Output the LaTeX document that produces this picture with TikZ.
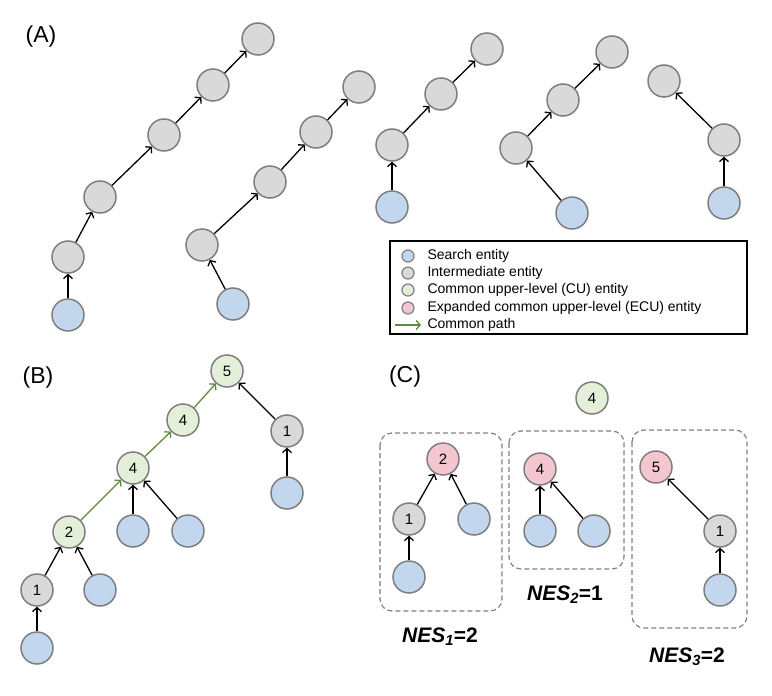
\documentclass[tikz,border=0pt]{standalone}
\usepackage{fontspec}
\setmainfont{Liberation Sans}
\usetikzlibrary{arrows.meta, positioning}

\definecolor{searchblue}{HTML}{C2D7EE}
\definecolor{intergray}{HTML}{D9D9D9}
\definecolor{cugreen}{HTML}{E4EFD9}
\definecolor{ecupink}{HTML}{F4C6CF}
\definecolor{nodeborder}{HTML}{7F7F7F}
\definecolor{pathgreen}{HTML}{5E8C3E}
\definecolor{boxgray}{HTML}{808080}

\begin{document}
\begin{tikzpicture}[x=1pt, y=-1pt,
        >={Straight Barb[length=4pt, width=9pt]},
        search/.style={circle, draw=nodeborder, line width=1.5pt, fill=searchblue, minimum size=32pt, inner sep=0pt, font=\fontsize{15}{17}\selectfont},
        inter/.style={search, fill=intergray},
        cu/.style={search, fill=cugreen},
        ecu/.style={search, fill=ecupink},
        key/.style={circle, draw=nodeborder, line width=1.2pt, minimum size=12pt, inner sep=0pt},
        keytext/.style={anchor=west, font=\fontsize{14}{16}\selectfont},
        line/.style={->, line width=1.3pt},
        common/.style={line, draw=pathgreen},
        group/.style={draw=boxgray, line width=1.2pt, dash pattern=on 5pt off 3pt, rounded corners=12pt},
        panel/.style={font=\fontsize{23}{26}\selectfont},
        nes/.style={font=\fontsize{21}{24}\selectfont\bfseries\itshape}
    ]
        \useasboundingbox (0,0) rectangle (772,696);

        % Panel labels
        \node[panel] (pa) at (41,37) {(A)};
        \node[panel] (pb) at (38,378) {(B)};
        \node[panel] (pc) at (405,377) {(C)};

        % (A) first path
        \node[search] (a0) at (68,315) {};
        \node[inter] (a1) at (68,257) {};
        \node[inter] (a2) at (100,197) {};
        \node[inter] (a3) at (164,135) {};
        \node[inter] (a4) at (213,85) {};
        \node[inter] (a5) at (258,39) {};
        \foreach \s/\t in {a0/a1, a1/a2, a2/a3, a3/a4, a4/a5}
            \draw[line] (\s) -- (\t);

        % (A) second path
        \node[search] (b0) at (233,304) {};
        \node[inter] (b1) at (202,245) {};
        \node[inter] (b2) at (270,182) {};
        \node[inter] (b3) at (316,132) {};
        \node[inter] (b4) at (359,87) {};
        \foreach \s/\t in {b0/b1, b1/b2, b2/b3, b3/b4}
            \draw[line] (\s) -- (\t);

        % (A) third path
        \node[search] (d0) at (392,207) {};
        \node[inter] (d1) at (392,145) {};
        \node[inter] (d2) at (441,94) {};
        \node[inter] (d3) at (487,49) {};
        \foreach \s/\t in {d0/d1, d1/d2, d2/d3}
            \draw[line] (\s) -- (\t);

        % (A) fourth path
        \node[search] (e0) at (572,213) {};
        \node[inter] (e1) at (516,148) {};
        \node[inter] (e2) at (563,100) {};
        \node[inter] (e3) at (612,52) {};
        \foreach \s/\t in {e0/e1, e1/e2, e2/e3}
            \draw[line] (\s) -- (\t);

        % (A) fifth path
        \node[search] (f0) at (724,203) {};
        \node[inter] (f1) at (724,140) {};
        \node[inter] (f2) at (664,81) {};
        \draw[line] (f0) -- (f1);
        \draw[line] (f1) -- (f2);

        % Legend
        \draw[line width=1.5pt] (390,241) rectangle (747,334);
        \node[key, fill=searchblue] (k1) at (408,256) {};
        \node[key, fill=intergray] (k2) at (408,273) {};
        \node[key, fill=cugreen] (k3) at (408,290) {};
        \node[key, fill=ecupink] (k4) at (408,308) {};
        \coordinate (k5a) at (395,325);
        \coordinate (k5b) at (421,325);
        \draw[common] (k5a) -- (k5b);
        \node[keytext] at (424,256) {Search entity};
        \node[keytext] at (424,273) {Intermediate entity};
        \node[keytext] at (424,290) {Common upper-level (CU) entity};
        \node[keytext] at (424,308) {Expanded common upper-level (ECU) entity};
        \node[keytext] at (424,325) {Common path};

        % (B) merged paths
        \node[cu] (m5) at (227,371) {5};
        \node[cu] (m4a) at (183,420) {4};
        \node[cu] (m4b) at (133,468) {4};
        \node[cu] (m2) at (69,532) {2};
        \node[inter] (m1) at (37,590) {1};
        \node[inter] (n1) at (287,431) {1};
        \node[search] (s1) at (37,648) {};
        \node[search] (s2) at (100,590) {};
        \node[search] (s3) at (133,531) {};
        \node[search] (s4) at (188,531) {};
        \node[search] (s5) at (287,493) {};
        \draw[common] (m2) -- (m4b);
        \draw[common] (m4b) -- (m4a);
        \draw[common] (m4a) -- (m5);
        \foreach \s/\t in {s1/m1, m1/m2, s2/m2, s3/m4b, s4/m4b, s5/n1, n1/m5}
            \draw[line] (\s) -- (\t);

        % (C) expanded entities
        \node[cu] (top) at (592,398) {4};

        \draw[group] (380,433) rectangle (502,611);
        \node[ecu] (x2) at (443,459) {2};
        \node[inter] (x1) at (409,519) {1};
        \node[search] (xs1) at (409,577) {};
        \node[search] (xs2) at (474,519) {};
        \draw[line] (xs1) -- (x1);
        \draw[line] (x1) -- (x2);
        \draw[line] (xs2) -- (x2);
        \node[nes] (nes1) at (440,637) {NES\textsubscript{1}\textup{=2}};

        \draw[group] (509,431) rectangle (624,569);
        \node[ecu] (y4) at (540,469) {4};
        \node[search] (ys1) at (540,531) {};
        \node[search] (ys2) at (594,531) {};
        \draw[line] (ys1) -- (y4);
        \draw[line] (ys2) -- (y4);
        \node[nes] (nes2) at (565,595) {NES\textsubscript{2}\textup{=1}};

        \draw[group] (632,430) rectangle (747,628);
        \node[ecu] (z5) at (656,467) {5};
        \node[inter] (z1) at (720,531) {1};
        \node[search] (zs1) at (720,590) {};
        \draw[line] (zs1) -- (z1);
        \draw[line] (z1) -- (z5);
        \node[nes] (nes3) at (687,657) {NES\textsubscript{3}\textup{=2}};

    \end{tikzpicture}
\end{document}
